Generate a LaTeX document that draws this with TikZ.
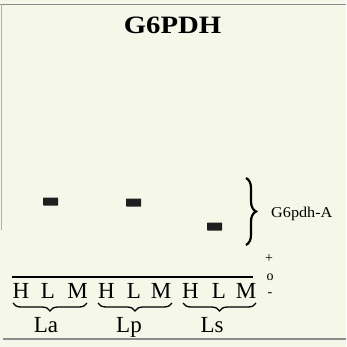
\documentclass[tikz,border=0pt]{standalone}
\usepackage{fontspec}
\setmainfont{Liberation Serif}
\usetikzlibrary{decorations.pathreplacing}
\definecolor{paper}{RGB}{245,247,233}
\definecolor{framegray}{RGB}{140,140,140}
\begin{document}
\begin{tikzpicture}[x=1pt,y=-1pt,
  band/.style={fill=black!88, draw=none, minimum width=15pt, minimum height=8pt, inner sep=0pt, rounded corners=0.5pt},
  lane/.style={font=\fontsize{23}{23}\selectfont, inner sep=0pt, anchor=base},
  grp/.style={font=\fontsize{23}{23}\selectfont, inner sep=0pt, anchor=base},
  sign/.style={font=\fontsize{14}{14}\selectfont, inner sep=0pt},
  lowbrace/.style={decorate, decoration={brace, mirror, amplitude=8pt}, line width=1.3pt},
  sidebrace/.style={decorate, decoration={brace, amplitude=10pt}, line width=2.2pt},
  edge/.style={draw=framegray, line width=1.3pt}]
\fill[paper] (0,0) rectangle (346,347);
\useasboundingbox (0,0) rectangle (346,347);
% frame lines
\coordinate (tl) at (0,4.5);
\coordinate (tr) at (346,4.5);
\coordinate (lt) at (1,4.5);
\coordinate (lb) at (1,230);
\coordinate (bl) at (3,339);
\coordinate (br) at (346,339);
\draw[edge] (tr) -- (tl);
\draw[edge, draw=framegray!70, line width=1pt] (lt) -- (lb);
\draw[edge, line width=1.1pt] (bl) -- (br);
% title
\node[font=\bfseries\fontsize{25}{25}\selectfont, anchor=base, inner sep=0pt] (title) at (172.5,34) {\scalebox{1.15}[1]{G6PDH}};
% bands
\node[band] (b1) at (50.5,201.5) {};
\node[band] (b2) at (133.5,202.5) {};
\node[band] (b3) at (214.5,226.5) {};
% side brace and label
\coordinate (sbt) at (246,178);
\coordinate (sbb) at (246,245);
\draw[sidebrace] (sbt) -- (sbb);
\node[font=\fontsize{15}{15}\selectfont, anchor=base west, inner sep=0pt] (lab) at (271,217) {\scalebox{1.08}[1]{G6pdh-A}};
% signs
\node[sign] (plus) at (269,259) {+};
\node[sign] (zero) at (270,277) {o};
\node[sign] (minus) at (270,295) {-};
% overline
\coordinate (ol1) at (12,277);
\coordinate (ol2) at (253,277);
\draw[line width=1.3pt] (ol1) -- (ol2);
% lanes
\node[lane] (h1) at (21,298.5) {H};
\node[lane] (l1) at (48,298.5) {L};
\node[lane] (m1) at (77.5,298.5) {M};
\node[lane] (h2) at (106.5,298.5) {H};
\node[lane] (l2) at (134,298.5) {L};
\node[lane] (m2) at (161,298.5) {M};
\node[lane] (h3) at (190.5,298.5) {H};
\node[lane] (l3) at (219,298.5) {L};
\node[lane] (m3) at (246,298.5) {M};
% group braces
\coordinate (g1a) at (13,303);
\coordinate (g1b) at (87,303);
\coordinate (g2a) at (98,303);
\coordinate (g2b) at (172,303);
\coordinate (g3a) at (183,303);
\coordinate (g3b) at (256,303);
\draw[lowbrace] (g1a) -- (g1b);
\draw[lowbrace] (g2a) -- (g2b);
\draw[lowbrace] (g3a) -- (g3b);
\node[grp] (la) at (46,332) {La};
\node[grp] (lp) at (129,332) {Lp};
\node[grp] (ls) at (212,332) {Ls};
\end{tikzpicture}
\end{document}
